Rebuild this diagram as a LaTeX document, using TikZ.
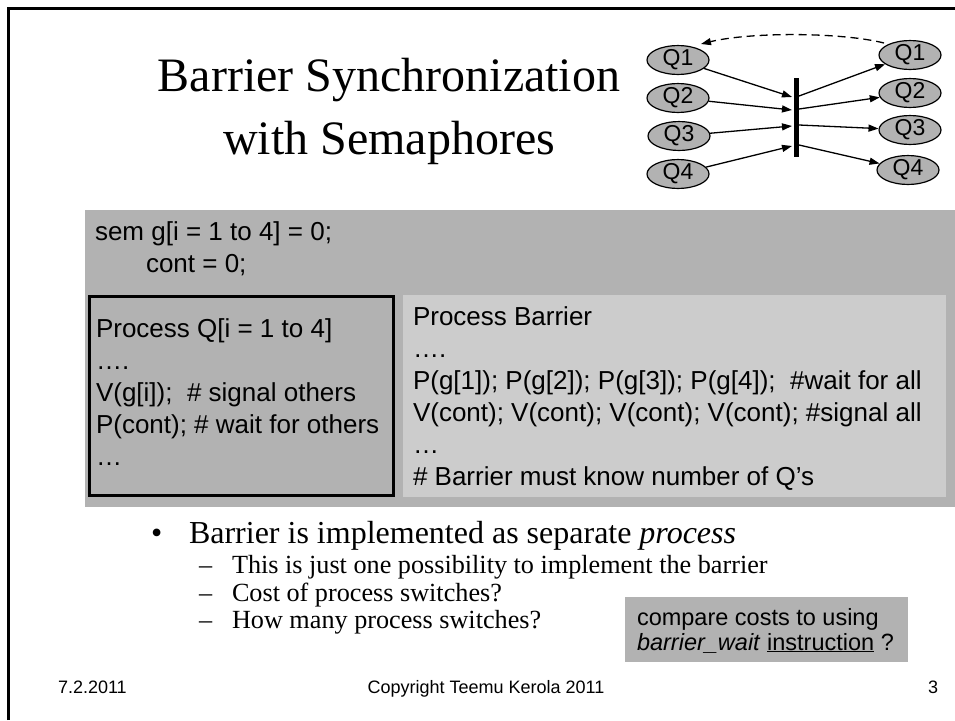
\documentclass[tikz,border=0pt]{standalone}
\usepackage{fontspec}
\setmainfont{Liberation Serif}
\newfontfamily\arialf{Liberation Sans}
\usetikzlibrary{arrows.meta,shapes.geometric}
\definecolor{boxgray}{RGB}{178,178,178}
\definecolor{boxlight}{RGB}{204,204,204}
\begin{document}
\begin{tikzpicture}[x=1pt,y=-1pt,
  txt/.style={anchor=base west,inner sep=0pt,outer sep=0pt},
  code/.style={txt,font=\arialf\fontsize{26}{30}\selectfont},
  note/.style={txt,font=\arialf\fontsize{23.5}{26}\selectfont},
  foot/.style={inner sep=0pt,outer sep=0pt,font=\arialf\fontsize{18}{20}\selectfont},
  titlef/.style={anchor=base,inner sep=0pt,font=\fontsize{48}{52}\selectfont},
  bul/.style={txt,font=\fontsize{32}{36}\selectfont},
  subb/.style={txt,font=\fontsize{26.2}{28}\selectfont},
  qnode/.style={ellipse,draw=black,line width=1.2pt,fill=boxgray,minimum width=62pt,minimum height=26pt,inner sep=0pt,font=\arialf\fontsize{23}{23}\selectfont},
  arr/.style={line width=1.3pt,-{Triangle[length=10pt,width=7pt]}},
]
\useasboundingbox (0,0) rectangle (955,720);
% slide frame
\draw[line width=3pt] (8,720) -- (8,8) -- (955,8);

% title
\node[titlef] (t1) at (389,91) {Barrier Synchronization};
\node[titlef] (t2) at (389,154) {with Semaphores};

% diagram
\node[qnode] (lq1) at (678,60) {Q1};
\node[qnode] (lq2) at (678,98) {Q2};
\node[qnode] (lq3) at (679,136) {Q3};
\node[qnode] (lq4) at (678,174) {Q4};
\node[qnode] (rq1) at (910,55) {Q1};
\node[qnode] (rq2) at (910,93) {Q2};
\node[qnode] (rq3) at (910,130) {Q3};
\node[qnode] (rq4) at (908,170) {Q4};
\node[fill=black,minimum width=5pt,minimum height=79pt,inner sep=0pt,outer sep=0pt] (bar) at (796,117.5) {};
\coordinate (bi1) at (792,97);
\coordinate (bi2) at (792,110);
\coordinate (bi3) at (792,126);
\coordinate (bi4) at (792,146);
\coordinate (bo1) at (799,96);
\coordinate (bo2) at (799,109);
\coordinate (bo3) at (799,125);
\coordinate (bo4) at (799,145);
\draw[arr] (lq1) -- (bi1);
\draw[arr] (lq2) -- (bi2);
\draw[arr] (lq3) -- (bi3);
\draw[arr] (lq4) -- (bi4);
\draw[arr] (bo1) -- (rq1);
\draw[arr] (bo2) -- (rq2);
\draw[arr] (bo3) -- (rq3);
\draw[arr] (bo4) -- (rq4);
\coordinate (dstart) at (884,43);
\coordinate (dend) at (701,44);
\draw[arr,dash pattern=on 8pt off 5pt] (dstart) .. controls (840,32) and (750,32) .. (dend);

% big gray area
\fill[boxgray] (85,210) rectangle (955,507);
\node[code] (sem1) at (95,240) {sem g[i = 1 to 4] = 0;};
\node[code] (sem2) at (146,272) {cont = 0;};
% left process box
\draw[line width=3pt,fill=boxgray] (89,296) rectangle (393,495);
\node[code] (qa) at (96,337) {Process Q[i = 1 to 4]};
\node[code] (qb) at (96,369) {….};
\node[code] (qc) at (96,401) {V(g[i]);\ \ \# signal others};
\node[code] (qd) at (96,433) {P(cont); \# wait for others};
\node[code] (qe) at (96,465) {…};
% right barrier box
\fill[boxlight] (403,295) rectangle (946,497);
\node[code] (ba) at (413,325) {Process Barrier};
\node[code] (bb) at (413,357) {….};
\node[code] (bc) at (413,389) {P(g[1]); P(g[2]); P(g[3]); P(g[4]);\ \ \#wait for all};
\node[code] (bd) at (413,421) {V(cont); V(cont); V(cont); V(cont); \#signal all};
\node[code] (be) at (413,453) {…};
\node[code] (bf) at (413,485) {\# Barrier must know number of Q’s};

% bullets
\node[bul] (dot0) at (151,543) {•};
\node[bul] (l0) at (189,543) {Barrier is implemented as separate \textit{process}};
\node[subb] (d1) at (199,573) {–};
\node[subb] (l1) at (232,573) {This is just one possibility to implement the barrier};
\node[subb] (d2) at (199,601) {–};
\node[subb] (l2) at (232,601) {Cost of process switches?};
\node[subb] (d3) at (199,628) {–};
\node[subb] (l3) at (232,628) {How many process switches?};

% note box
\fill[boxgray] (625,597) rectangle (908,662);
\node[note] (n1) at (637,625) {compare costs to using};
\node[note] (n2) at (637,650) {\textit{barrier\_wait} \underline{instruction} ?};

% footer
\node[foot,anchor=base west] (date) at (58,693) {7.2.2011};
\node[foot,anchor=base] (copy) at (486,693) {Copyright Teemu Kerola 2011};
\node[foot,anchor=base east] (page) at (938,693) {3};
\end{tikzpicture}
\end{document}
